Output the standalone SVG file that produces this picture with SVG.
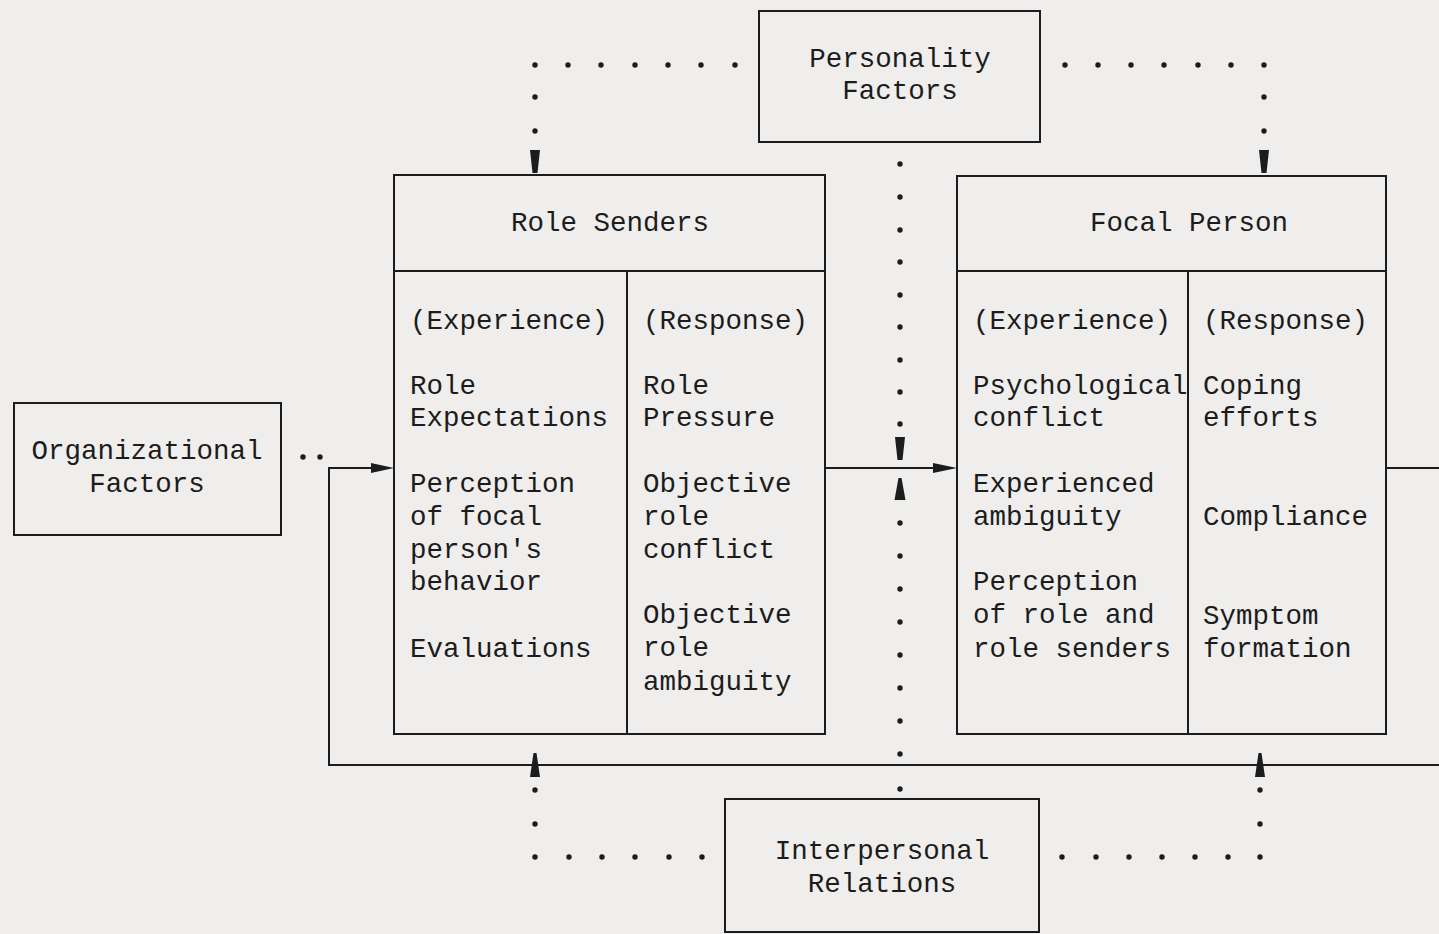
<svg xmlns="http://www.w3.org/2000/svg" width="1439" height="934" viewBox="0 0 1439 934">
<style>
.bg{fill:#efeeec}
.box{fill:none;stroke:#1c1c1c;stroke-width:2}
.ln{fill:none;stroke:#1c1c1c;stroke-width:2}
.t{font-family:"Liberation Mono","Courier New",monospace;font-size:27.5px;fill:#1c1c1c}
.m{text-anchor:middle}
.d{fill:#1c1c1c}
.ah{fill:#1c1c1c}
</style>
<defs>
<circle id="dot" r="2.7" class="d"/>
</defs>
<rect class="bg" x="0" y="0" width="1439" height="934"/>

<g id="personality">
<rect class="box" x="759" y="11" width="281" height="131"/>
<text class="t m" x="900" y="67">Personality</text>
<text class="t m" x="900" y="99">Factors</text>
</g>

<g id="organizational">
<rect class="box" x="14" y="403" width="267" height="132"/>
<text class="t m" x="147" y="459">Organizational</text>
<text class="t m" x="147" y="492">Factors</text>
</g>

<g id="interpersonal">
<rect class="box" x="725" y="799" width="314" height="133"/>
<text class="t m" x="882" y="859">Interpersonal</text>
<text class="t m" x="882" y="892">Relations</text>
</g>

<g id="role-senders">
<rect class="box" x="394" y="175" width="431" height="559"/>
<line class="ln" x1="394" y1="271" x2="825" y2="271"/>
<line class="ln" x1="627" y1="271" x2="627" y2="734"/>
<text class="t" x="511" y="231">Role Senders</text>
<text class="t" x="410" y="329">(Experience)</text>
<text class="t" x="410" y="394">Role</text>
<text class="t" x="410" y="426">Expectations</text>
<text class="t" x="410" y="492">Perception</text>
<text class="t" x="410" y="525">of focal</text>
<text class="t" x="410" y="558">person's</text>
<text class="t" x="410" y="590">behavior</text>
<text class="t" x="410" y="657">Evaluations</text>
<text class="t" x="643" y="329">(Response)</text>
<text class="t" x="643" y="394">Role</text>
<text class="t" x="643" y="426">Pressure</text>
<text class="t" x="643" y="492">Objective</text>
<text class="t" x="643" y="525">role</text>
<text class="t" x="643" y="558">conflict</text>
<text class="t" x="643" y="623">Objective</text>
<text class="t" x="643" y="656">role</text>
<text class="t" x="643" y="690">ambiguity</text>
</g>

<g id="focal-person">
<rect class="box" x="957" y="176" width="429" height="558"/>
<line class="ln" x1="957" y1="271" x2="1386" y2="271"/>
<line class="ln" x1="1188" y1="271" x2="1188" y2="734"/>
<text class="t" x="1090" y="231">Focal Person</text>
<text class="t" x="973" y="329">(Experience)</text>
<text class="t" x="973" y="394">Psychological</text>
<text class="t" x="973" y="426">conflict</text>
<text class="t" x="973" y="492">Experienced</text>
<text class="t" x="973" y="525">ambiguity</text>
<text class="t" x="973" y="590">Perception</text>
<text class="t" x="973" y="623">of role and</text>
<text class="t" x="973" y="657">role senders</text>
<text class="t" x="1203" y="329">(Response)</text>
<text class="t" x="1203" y="394">Coping</text>
<text class="t" x="1203" y="426">efforts</text>
<text class="t" x="1203" y="525">Compliance</text>
<text class="t" x="1203" y="624">Symptom</text>
<text class="t" x="1203" y="657">formation</text>
</g>

<g id="connectors">
<line class="ln" x1="825" y1="468" x2="936" y2="468"/>
<polygon class="ah" points="933,463 957,468 933,473"/>
<polyline class="ln" points="1439,765 329,765 329,468 376,468"/>
<polygon class="ah" points="371,463 394,468 371,473"/>
<line class="ln" x1="1386" y1="468" x2="1439" y2="468"/>

<use href="#dot" x="535" y="65"/><use href="#dot" x="568" y="65"/><use href="#dot" x="601" y="65"/><use href="#dot" x="635" y="65"/><use href="#dot" x="668" y="65"/><use href="#dot" x="701" y="65"/><use href="#dot" x="735" y="65"/>
<use href="#dot" x="535" y="97"/><use href="#dot" x="535" y="131"/>
<polygon class="ah" points="530,150 540,150 537.5,173 532.5,173"/>
<use href="#dot" x="1065" y="65"/><use href="#dot" x="1098" y="65"/><use href="#dot" x="1131" y="65"/><use href="#dot" x="1164" y="65"/><use href="#dot" x="1198" y="65"/><use href="#dot" x="1231" y="65"/><use href="#dot" x="1264" y="65"/>
<use href="#dot" x="1264" y="97"/><use href="#dot" x="1264" y="131"/>
<polygon class="ah" points="1259,150 1269,150 1266.5,173 1261.5,173"/>

<use href="#dot" x="900" y="164"/><use href="#dot" x="900" y="197"/><use href="#dot" x="900" y="230"/><use href="#dot" x="900" y="262"/><use href="#dot" x="900" y="295"/><use href="#dot" x="900" y="327"/><use href="#dot" x="900" y="360"/><use href="#dot" x="900" y="392"/><use href="#dot" x="900" y="424"/>
<polygon class="ah" points="895,437 905,437 902.5,460 897.5,460"/>
<polygon class="ah" points="898.5,478 901.5,478 905.5,500 894.5,500"/>
<use href="#dot" x="900" y="523"/><use href="#dot" x="900" y="556"/><use href="#dot" x="900" y="589"/><use href="#dot" x="900" y="622"/><use href="#dot" x="900" y="655"/><use href="#dot" x="900" y="688"/><use href="#dot" x="900" y="721"/><use href="#dot" x="900" y="754"/><use href="#dot" x="900" y="789"/>

<use href="#dot" x="303" y="457"/><use href="#dot" x="320" y="457"/>

<use href="#dot" x="535" y="857"/><use href="#dot" x="569" y="857"/><use href="#dot" x="602" y="857"/><use href="#dot" x="635" y="857"/><use href="#dot" x="669" y="857"/><use href="#dot" x="702" y="857"/>
<use href="#dot" x="535" y="824"/><use href="#dot" x="535" y="790"/>
<polygon class="ah" points="533.5,753 536.5,753 540,777 530,777"/>
<use href="#dot" x="1062" y="857"/><use href="#dot" x="1096" y="857"/><use href="#dot" x="1129" y="857"/><use href="#dot" x="1162" y="857"/><use href="#dot" x="1195" y="857"/><use href="#dot" x="1228" y="857"/><use href="#dot" x="1260" y="857"/>
<use href="#dot" x="1260" y="824"/><use href="#dot" x="1260" y="790"/>
<polygon class="ah" points="1258.5,753 1261.5,753 1265,777 1255,777"/>
</g>
</svg>
